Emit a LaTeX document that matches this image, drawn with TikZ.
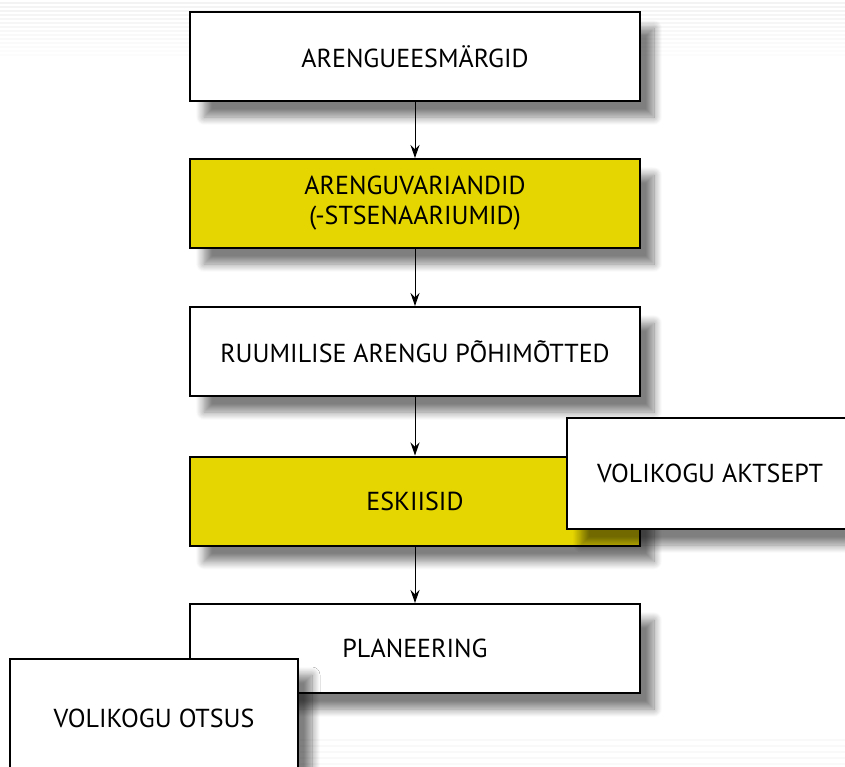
\documentclass[tikz,border=0pt]{standalone}
\usepackage{fontspec}
\setmainfont{PT Sans}
\usetikzlibrary{arrows.meta,shadows.blur}
\begin{document}
\begin{tikzpicture}[x=1pt,y=-1pt,
  box/.style={draw=black,line width=2pt,fill=white,minimum width=450pt,minimum height=89pt,
    inner sep=0pt,align=center,font=\fontsize{26}{30}\selectfont,
    blur shadow={shadow xshift=14pt,shadow yshift=-16pt,shadow blur radius=8pt,shadow opacity=50,shadow blur steps=12}},
  ybox/.style={box,fill=ylw},
  conn/.style={line width=1pt,-{Stealth[length=13pt,width=9pt]}}]
\definecolor{ylw}{HTML}{E5D500}
\useasboundingbox (0,0) rectangle (845,766);
% faint background stripes
\foreach \y in {3,7,11,15,19,23,27,31,35,39,43,47,51,55}{
  \pgfmathsetmacro\op{0.05*(1-\y/70)}
  \draw[black,opacity=\op,line width=1.5pt] (0,\y) -- (845,\y);
}
\foreach \y in {740,746,752,758,764}{
  \draw[black,opacity=0.025,line width=1.5pt] (300,\y) -- (845,\y);
}
\node[box]  (a) at (415,56.5) {ARENGUEESMÄRGID};
\node[ybox] (b) at (415,203.5) {ARENGUVARIANDID\\(-STSENAARIUMID)};
\node[box]  (c) at (415,351.5) {RUUMILISE ARENGU PÕHIMÕTTED};
\node[ybox] (d) at (415,501) {ESKIISID};
\node[box,minimum width=286pt,minimum height=111pt] (e) at (710,473.5) {VOLIKOGU AKTSEPT};
\node[box]  (f) at (415,648.5) {PLANEERING};
\node[box,minimum width=288pt,minimum height=118pt] (g) at (154,718) {VOLIKOGU OTSUS};
\draw[conn] (a) -- (b);
\draw[conn] (b) -- (c);
\draw[conn] (c) -- (d);
\draw[conn] (d) -- (f);
\end{tikzpicture}
\end{document}
